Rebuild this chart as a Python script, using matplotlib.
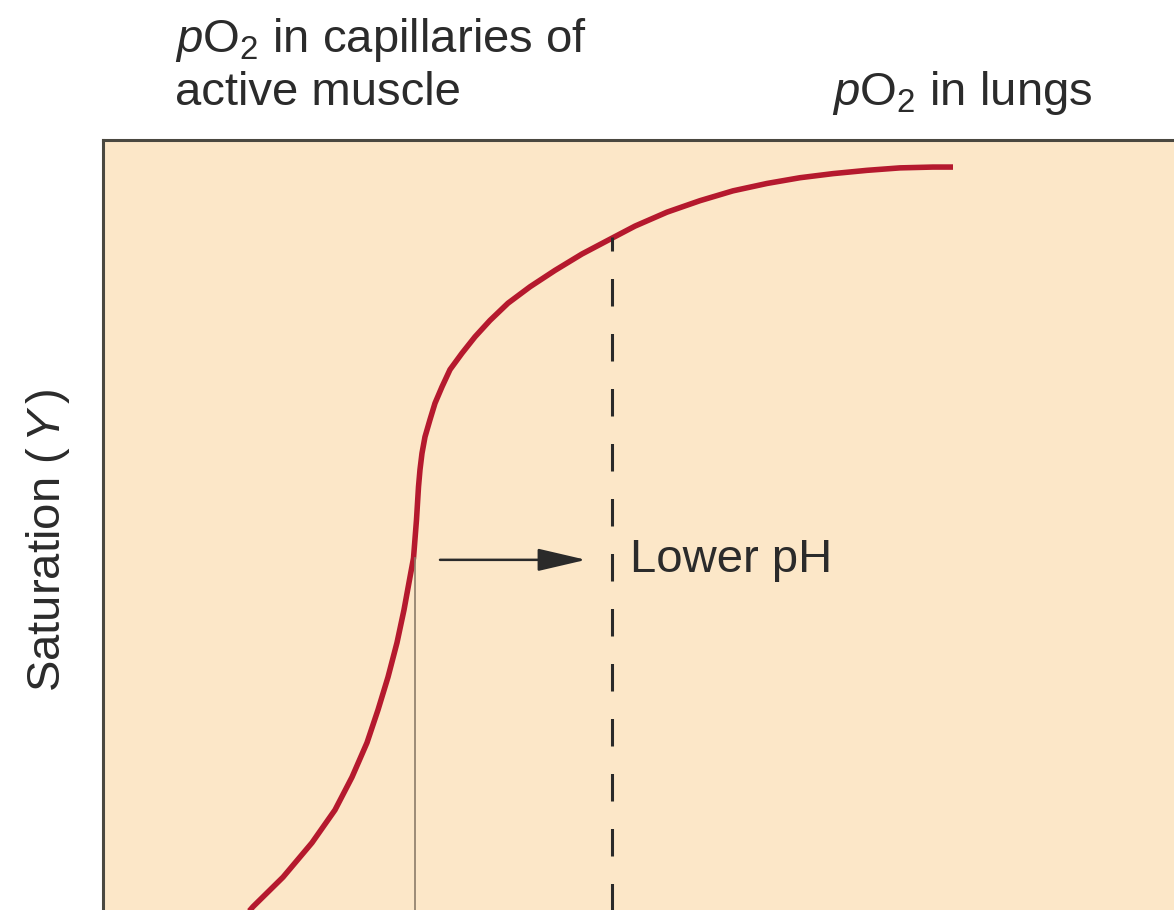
import numpy as np
import matplotlib
matplotlib.use("Agg")
import matplotlib.pyplot as plt

plt.rcParams['font.family'] = ['Liberation Sans', 'DejaVu Sans']
plt.rcParams['mathtext.fontset'] = 'custom'
plt.rcParams['mathtext.rm'] = 'Liberation Sans'
plt.rcParams['mathtext.it'] = 'Liberation Sans:italic'

# oxygen binding curve (pO2 arbitrary units, saturation 0-1)
po2 = [12.5, 15.0, 18.0, 20.9, 23.2, 24.9, 26.4, 27.5, 28.5, 29.4, 30.1, 30.7,
       31.05, 31.35, 31.55, 31.7, 31.9, 32.2, 32.7, 33.2, 33.9, 34.7, 35.9, 37.2,
       38.7, 40.5, 42.7, 45.2, 47.9, 50.7, 53.2, 56.4, 59.7, 63.0, 66.4, 69.7,
       73.0, 76.4, 79.7, 83.0, 85.0]
sat = [0.030, 0.065, 0.101, 0.143, 0.183, 0.223, 0.265, 0.305, 0.345, 0.387, 0.427, 0.467,
       0.490, 0.537, 0.577, 0.598, 0.618, 0.638, 0.659, 0.679, 0.699, 0.720, 0.740, 0.760,
       0.780, 0.801, 0.821, 0.841, 0.861, 0.879, 0.895, 0.912, 0.926, 0.938, 0.947, 0.954,
       0.959, 0.963, 0.966, 0.967, 0.967]

muscle_x = 31.2      # pO2 in active muscle capillaries
muscle_top = 0.49
lower_ph_x = 50.9    # shifted position
lower_ph_top = 0.882
arrow_y = 0.488

txt = '#2b2b2b'

fig = plt.figure(figsize=(11.74, 9.10), dpi=100)
ax = fig.add_axes([103 / 1174, -50 / 910, 1180 / 1174, 820 / 910])
ax.set_facecolor('#fce7c8')
ax.set_xlim(0, 118)
ax.set_ylim(0, 1)
ax.set_xticks([])
ax.set_yticks([])
for s in ['right', 'bottom']:
    ax.spines[s].set_visible(False)
for s in ['top', 'left']:
    ax.spines[s].set_color('#4a4840')
    ax.spines[s].set_linewidth(2.2)

ax.plot(po2, sat, color='#b5192e', lw=4.0, solid_capstyle='butt', solid_joinstyle='round')
ax.plot([muscle_x, muscle_x], [0, muscle_top], color='#8c7c68', lw=1.2)
ax.plot([lower_ph_x, lower_ph_x], [0, lower_ph_top], color='#2a2a2a', lw=2.2,
        dashes=(9, 9))

ax.annotate('', xy=(48.3, arrow_y), xytext=(33.7, arrow_y),
            arrowprops=dict(arrowstyle='-|>,head_length=3.0,head_width=0.7',
                            color='#2a2a2a', lw=1.8, shrinkA=0, shrinkB=0))
ax.text(52.7, arrow_y, 'Lower pH', fontsize=34, color=txt, va='center', ha='left')

fig.text(175 / 1174, 1 - 52 / 910, r'$p$O$_2$ in capillaries of', fontsize=34,
         color=txt, va='baseline', ha='left')
fig.text(175 / 1174, 1 - 105 / 910, 'active muscle', fontsize=34,
         color=txt, va='baseline', ha='left')
fig.text(832 / 1174, 1 - 105 / 910, r'$p$O$_2$ in lungs', fontsize=34,
         color=txt, va='baseline', ha='left')
fig.text(48 / 1174, 1 - 540 / 910, r'Saturation (${\,}\it{Y}{\,}$)', fontsize=34,
         color=txt, va='center', ha='center', rotation=90)

fig.savefig('out.png', dpi=100, facecolor='white')
